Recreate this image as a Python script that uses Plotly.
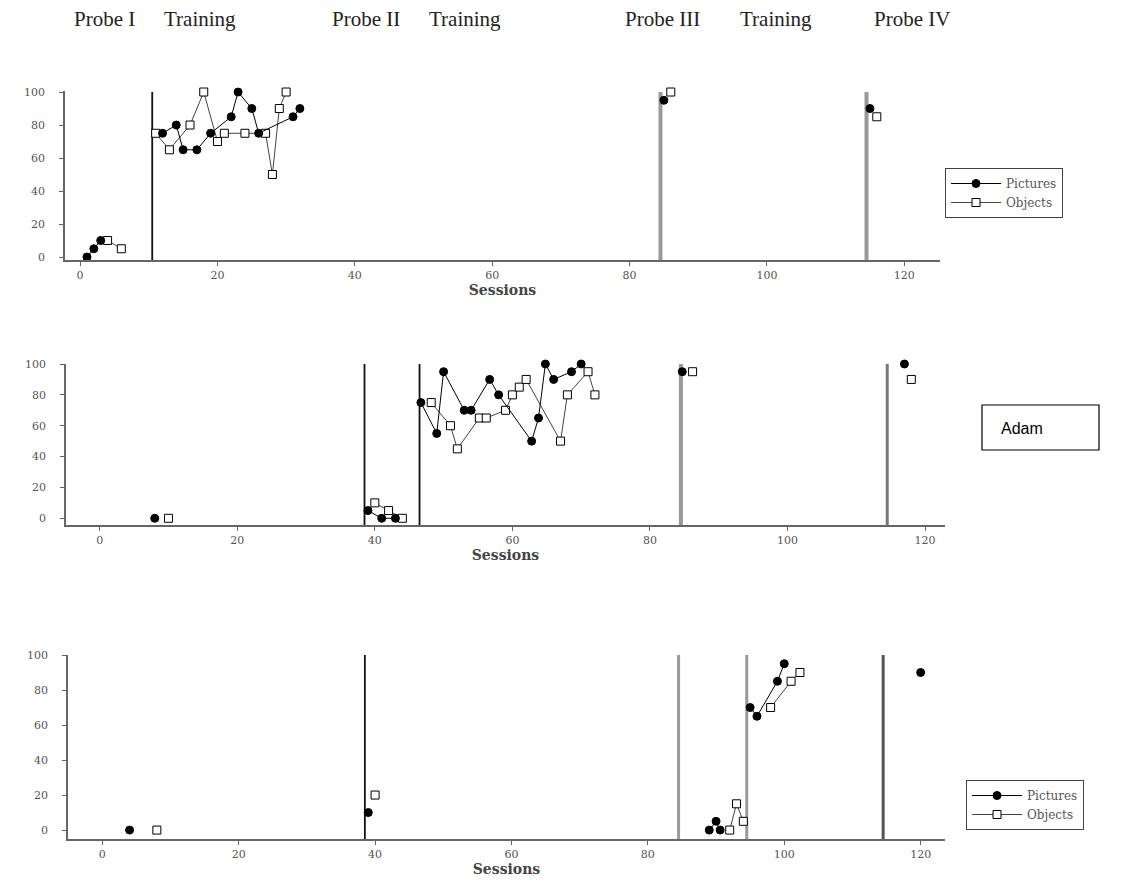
import plotly.graph_objects as go

# ---------------- data ----------------
top_pic_x = [1, 2, 3, None, 12, 14, 15, 17, 19, 22, 23, 25, 26, 31, 32, None, 85, None, 115]
top_pic_y = [0, 5, 10, None, 75, 80, 65, 65, 75, 85, 100, 90, 75, 85, 90, None, 95, None, 90]
top_obj_x = [4, 6, None, 11, 13, 16, 18, 20, 21, 24, 27, 28, 29, 30, None, 86, None, 116]
top_obj_y = [10, 5, None, 75, 65, 80, 100, 70, 75, 75, 75, 50, 90, 100, None, 100, None, 85]

mid_pic_x = [8, None, 39, 41, 43, None, 46.7, 49, 50, 53, 54, 56.7, 58, 62.8, 63.8, 64.8, 66, 68.6, 70, None, 84.7, None, 117]
mid_pic_y = [0, None, 5, 0, 0, None, 75, 55, 95, 70, 70, 90, 80, 50, 65, 100, 90, 95, 100, None, 95, None, 100]
mid_obj_x = [10, None, 40, 42, 44, None, 48.2, 51, 52, 55.2, 56.2, 59, 60, 61, 62, 67, 68, 71, 72, None, 86.2, None, 118]
mid_obj_y = [0, None, 10, 5, 0, None, 75, 60, 45, 65, 65, 70, 80, 85, 90, 50, 80, 95, 80, None, 95, None, 90]

bot_pic_x = [4, None, 39, None, 89, 90, 90.6, None, 95, 96, 99, 100, None, 120]
bot_pic_y = [0, None, 10, None, 0, 5, 0, None, 70, 65, 85, 95, None, 90]
bot_obj_x = [8, None, 40, None, 92, 93, 94, None, 98, 101, 102.3]
bot_obj_y = [0, None, 20, None, 0, 15, 5, None, 70, 85, 90]

top_phase = [10.5, 84.5, 114.5]
mid_phase = [38.5, 46.5, 84.5, 114.5]
bot_phase = [38.5, 84.5, 94.5, 114.5]

header_labels = ["Probe I", "Training", "Probe II", "Training", "Probe III", "Training", "Probe IV"]
x_ticks = [0, 20, 40, 60, 80, 100, 120]
y_ticks = [0, 20, 40, 60, 80, 100]

# ---------------- styles ----------------
W, H = 1145, 884
SERIF = "Liberation Serif, Times New Roman, serif"
WIDE = "DejaVu Serif, serif"


def px_x(p):
    return p / W


def px_y(p):
    return 1 - p / H


panels = [
    dict(xa="x", ya="y", xd=[px_x(65), px_x(940)], xr=[-2.2, 125.2],
         yd=[px_y(260.3), px_y(91.2)], yr=[-2, 100.5],
         pics=(top_pic_x, top_pic_y), objs=(top_obj_x, top_obj_y),
         phase=top_phase, pcol=["#111", "#999", "#999"], pw=[1.8, 4, 4],
         legend="legend"),
    dict(xa="x2", ya="y2", xd=[px_x(66), px_x(945)], xr=[-4.9, 122.9],
         yd=[px_y(525), px_y(364)], yr=[-4.35, 100],
         pics=(mid_pic_x, mid_pic_y), objs=(mid_obj_x, mid_obj_y),
         phase=mid_phase, pcol=["#111", "#111", "#999", "#777"], pw=[1.8, 1.8, 4, 3],
         legend=None),
    dict(xa="x3", ya="y3", xd=[px_x(68), px_x(945)], xr=[-5.03, 123.57],
         yd=[px_y(839), px_y(655)], yr=[-5.1, 100],
         pics=(bot_pic_x, bot_pic_y), objs=(bot_obj_x, bot_obj_y),
         phase=bot_phase, pcol=["#111", "#999", "#999", "#555"], pw=[1.8, 3, 3, 3],
         legend="legend2"),
]

fig = go.Figure()
shapes = []
for i, p in enumerate(panels):
    show = p["legend"] is not None
    for (xs, ys), name, sym, fill, lcol in [
        (p["objs"], "Objects", "square", "white", "#444"),
        (p["pics"], "Pictures", "circle", "black", "black"),
    ]:
        tr = dict(
            x=xs, y=ys, mode="lines+markers", name=name,
            xaxis=p["xa"], yaxis=p["ya"], connectgaps=False, cliponaxis=False,
            line=dict(color=lcol, width=1),
            marker=dict(symbol=sym, size=8, color=fill, line=dict(color="black", width=1)),
            showlegend=show,
        )
        if show:
            tr["legend"] = p["legend"]
            tr["legendrank"] = 1 if name == "Pictures" else 2
        fig.add_trace(go.Scatter(**tr))
    for xv, c, w in zip(p["phase"], p["pcol"], p["pw"]):
        shapes.append(dict(type="line", xref=p["xa"], yref=p["ya"],
                           x0=xv, x1=xv, y0=p["yr"][0], y1=100,
                           line=dict(color=c, width=w), layer="below"))

# "Adam" label box
shapes.append(dict(type="rect", xref="paper", yref="paper",
                   x0=px_x(982), x1=px_x(1099), y0=px_y(450), y1=px_y(405),
                   line=dict(color="black", width=1.2), fillcolor="white"))

axis_common = dict(showline=True, linecolor="#666", linewidth=1.5, ticks="outside",
                   ticklen=4, tickcolor="#666", showgrid=False, zeroline=False,
                   automargin=False,
                   tickfont=dict(family=WIDE, size=11, color="#555"))

layout = dict(
    width=W, height=H, margin=dict(l=0, r=0, t=0, b=0, autoexpand=False),
    plot_bgcolor="white", paper_bgcolor="white", shapes=shapes,
)
for i, p in enumerate(panels):
    sfx = "" if i == 0 else str(i + 1)
    layout["xaxis" + sfx] = dict(
        domain=p["xd"], range=p["xr"], anchor=p["ya"], tickvals=x_ticks,
        title=dict(text="<b>Sessions</b>", font=dict(family=WIDE, size=14, color="#444"), standoff=0),
        **axis_common)
    layout["yaxis" + sfx] = dict(
        domain=p["yd"], range=p["yr"], anchor=p["xa"], tickvals=y_ticks, ticklabelstandoff=12,
        **axis_common)

legend_style = dict(font=dict(family=WIDE, size=12, color="#555"), bordercolor="#444",
                    borderwidth=1, bgcolor="white", xanchor="left", yanchor="top",
                    tracegroupgap=0, traceorder="normal", itemwidth=50,
                    entrywidth=110, entrywidthmode="pixels")
layout["legend"] = dict(x=px_x(945), y=px_y(168), **legend_style)
layout["legend2"] = dict(x=px_x(966), y=px_y(780), **legend_style)
fig.update_layout(**layout)

header_x = [104, 200, 366, 465, 662, 776, 912]
for t, hx in zip(header_labels, header_x):
    fig.add_annotation(text=t, x=px_x(hx), y=px_y(19), xref="paper", yref="paper",
                       showarrow=False, xanchor="center", yanchor="middle",
                       font=dict(family=SERIF, size=21, color="#222"))

fig.add_annotation(text="Adam", x=px_x(999), y=px_y(428), xref="paper", yref="paper",
                   showarrow=False, xanchor="left", yanchor="middle",
                   font=dict(family="Liberation Sans, Arial, sans-serif", size=16, color="black"))

fig.write_html("out.html", config={"displayModeBar": False},
               post_script="document.body.style.margin='0';document.body.style.overflow='hidden';")
